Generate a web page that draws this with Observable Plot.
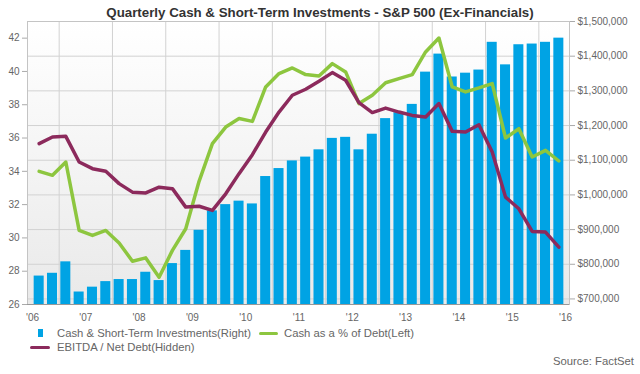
<!DOCTYPE html>
<html><head><meta charset="utf-8">
<script src="https://cdn.jsdelivr.net/npm/d3@7"></script>
<script src="https://cdn.jsdelivr.net/npm/@observablehq/plot@0.6"></script>
<style>
body{margin:0;background:#fff;}
#wrap{position:relative;width:640px;height:374px;font-family:"Liberation Sans",Arial,sans-serif;overflow:hidden;background:#fff;}
#title{position:absolute;top:3px;left:0;width:640px;text-align:center;font-weight:bold;font-size:13.3px;line-height:20px;color:#333;}
#chart{position:absolute;top:20px;left:0;}
.lg{position:absolute;font-size:11.3px;color:#666;line-height:14px;white-space:nowrap;}
.sw{position:absolute;}
</style></head>
<body>
<div id="wrap">
  <div id="title">Quarterly Cash &amp; Short-Term Investments - S&amp;P 500 (Ex-Financials)</div>
  <div id="chart"></div>
  <div class="sw" style="left:38px;top:329px;width:5px;height:8px;background:#00a3e4"></div>
  <div class="lg" style="left:57px;top:326px">Cash &amp; Short-Term Investments(Right)</div>
  <div class="sw" style="left:259px;top:331.5px;width:19px;height:3px;border-radius:1.5px;background:#8dc63f"></div>
  <div class="lg" style="left:284px;top:326px">Cash as a % of Debt(Left)</div>
  <div class="sw" style="left:30px;top:345.5px;width:20px;height:3px;border-radius:1.5px;background:#8c2a5c"></div>
  <div class="lg" style="left:57px;top:340px">EBITDA / Net Debt(Hidden)</div>
  <div class="lg" style="right:6px;top:354px">Source: FactSet</div>
</div>
<script>
const quarters = [
  "2006Q1","2006Q2","2006Q3","2006Q4","2007Q1","2007Q2","2007Q3","2007Q4",
  "2008Q1","2008Q2","2008Q3","2008Q4","2009Q1","2009Q2","2009Q3","2009Q4",
  "2010Q1","2010Q2","2010Q3","2010Q4","2011Q1","2011Q2","2011Q3","2011Q4",
  "2012Q1","2012Q2","2012Q3","2012Q4","2013Q1","2013Q2","2013Q3","2013Q4",
  "2014Q1","2014Q2","2014Q3","2014Q4","2015Q1","2015Q2","2015Q3","2015Q4"
];
// Cash & Short-Term Investments ($, right axis)
const cashST = [
  766000, 774000, 807000, 720000, 734000, 750000, 756000, 756000,
  777000, 753000, 802000, 840000, 898000, 954000, 972000, 982000,
  974000, 1053000, 1076000, 1098000, 1109000, 1130000, 1163000, 1166000,
  1130000, 1175000, 1220000, 1237000, 1261000, 1354000, 1406000, 1340000,
  1351000, 1360000, 1440000, 1375000, 1433000, 1435000, 1440000, 1452000
];
// Cash as a % of Debt (left axis)
const cashPctDebt = [
  34.0, 33.76, 34.56, 30.45, 30.15, 30.45, 29.7, 28.6,
  28.8, 27.64, 29.25, 30.55, 33.4, 35.66, 36.66, 37.17,
  37.0, 39.07, 39.87, 40.21, 39.81, 39.73, 40.47, 39.97,
  38.07, 38.57, 39.32, 39.57, 39.81, 41.17, 42.01, 39.07,
  38.77, 39.01, 39.27, 36.0, 36.56, 34.86, 35.26, 34.62
];
// EBITDA / Net Debt (hidden axis, drawn in left-axis units)
const ebitdaNetDebt = [
  35.66, 36.06, 36.1, 34.56, 34.16, 34.0, 33.26, 32.75,
  32.7, 33.05, 32.96, 31.85, 31.9, 31.65, 32.65, 33.86,
  35.0, 36.36, 37.56, 38.57, 38.93, 39.41, 39.93, 39.47,
  38.13, 37.53, 37.8, 37.56, 37.36, 37.26, 38.07, 36.4,
  36.36, 36.8, 35.16, 32.45, 31.75, 30.39, 30.35, 29.45
];
const yearTicks = [2006,2007,2008,2009,2010,2011,2012,2013,2014,2015,2016];
const leftTicks = [26,28,30,32,34,36,38,40,42];
const rightTicks = [700000,800000,900000,1000000,1100000,1200000,1300000,1400000,1500000];
const rightDomain = [684000, 1500000];
const leftDomain = [26, 43];

const toRight = v => rightDomain[0] + (v - leftDomain[0]) / (leftDomain[1] - leftDomain[0]) * (rightDomain[1] - rightDomain[0]);
const toLeft = v => leftDomain[0] + (v - rightDomain[0]) / (rightDomain[1] - rightDomain[0]) * (leftDomain[1] - leftDomain[0]);
const tOf = q => +q.slice(0, 4) + (+q.slice(5) - 0.5) / 4;

const rows = quarters.map((q, i) => ({
  t: tOf(q), cash: cashST[i], green: toRight(cashPctDebt[i]), purple: toRight(ebitdaNetDebt[i])
}));
const half = 0.094;
const gridYears = yearTicks.slice(0, -1).map(y => y + 0.5);
const fmt = d3.format(",");

const chart = Plot.plot({
  width: 640, height: 302,
  marginTop: 1, marginBottom: 18, marginLeft: 27, marginRight: 71,
  style: {fontFamily: "'Liberation Sans', Arial, sans-serif", fontSize: "10px", color: "#666", overflow: "visible", background: "transparent"},
  x: {domain: [2005.906, 2016.075]},
  y: {domain: rightDomain},
  marks: [
    Plot.frame({fill: "#f4f4f4", stroke: null}),
    Plot.gridY(rightTicks, {stroke: "#d2d2d2", strokeOpacity: 1}),
    Plot.gridX(gridYears, {stroke: "#d2d2d2", strokeOpacity: 1}),
    Plot.rect(rows, {x1: d => d.t - half, x2: d => d.t + half, y1: rightDomain[0], y2: "cash", fill: "#00a3e4"}),
    Plot.line(rows, {x: "t", y: "green", stroke: "#8dc63f", strokeWidth: 3.5, strokeLinejoin: "round"}),
    Plot.line(rows, {x: "t", y: "purple", stroke: "#8c2a5c", strokeWidth: 3.5, strokeLinejoin: "round"}),
    Plot.frame({stroke: "#c4c4c4"}),
    Plot.ruleY([rightDomain[0]], {stroke: "#999"}),
    Plot.axisY(rightTicks, {anchor: "right", tickSize: 5, tickPadding: 3, tickFormat: d => "$" + fmt(d), stroke: "#aaa", label: null}),
    Plot.axisY(leftTicks.map(toRight), {anchor: "left", tickSize: 5, tickPadding: 3, tickFormat: d => String(Math.round(toLeft(d))), stroke: "#aaa", label: null}),
    Plot.axisX(yearTicks, {anchor: "bottom", tickSize: 0, tickPadding: 9, tickFormat: d => "'" + String(d).slice(2), label: null})
  ]
});

// soft vertical gradient for the plot background
const ns = "http://www.w3.org/2000/svg";
const defs = document.createElementNS(ns, "defs");
defs.innerHTML = '<linearGradient id="bgGrad" x1="0" y1="0" x2="0" y2="1"><stop offset="0" stop-color="#ffffff"/><stop offset="1" stop-color="#e9e9e9"/></linearGradient>';
chart.insertBefore(defs, chart.firstChild);
const fr = chart.querySelector('[aria-label="frame"]');
if (fr) {
  const r = fr.tagName.toLowerCase() === "rect" ? fr : fr.querySelector("rect");
  if (r) r.setAttribute("fill", "url(#bgGrad)");
}
document.getElementById("chart").appendChild(chart);
</script>
</body></html>
